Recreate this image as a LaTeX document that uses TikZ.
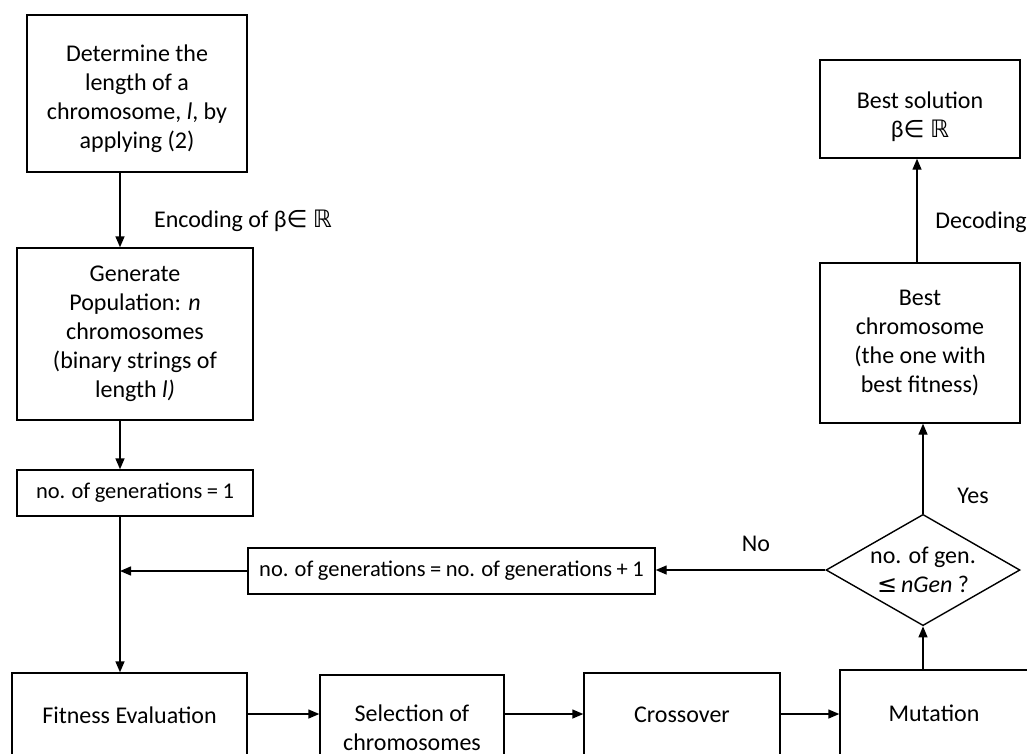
\documentclass[tikz,border=0pt]{standalone}
\usepackage{fontspec}
\setmainfont{Carlito}
\newfontfamily\symfont{DejaVu Sans}
\usetikzlibrary{arrows.meta,shapes.geometric}
\newcommand{\tightsp}{\fontsize{22.5}{29}\selectfont\spaceskip=4.5pt plus 1pt\relax}

\begin{document}
\begin{tikzpicture}[x=1pt, y=-1pt,
    every node/.style={font=\fontsize{24}{29}\selectfont},
    box/.style={draw, line width=1.4pt, align=center, inner sep=0pt},
    arr/.style={-{Triangle[length=11pt,width=9pt]}, line width=1.4pt}]
  \clip (0,0) rectangle (1027,753);
  \coordinate (spine) at (120,0);
  \coordinate (row) at (0,714);

  % left column
  \node[box, minimum width=220, minimum height=157] (len) at (137,93.5)
    {\rule{0pt}{28pt}Determine the\\length of a\\chromosome, \textit{l}, by\\applying (2)};
  \node (enc) at (243,221) {Encoding of β{\symfont∈} {\symfont ℝ}};
  \node[box, minimum width=236, minimum height=172] (pop) at (135,334)
    {Generate\\Population: \textit{n}\\chromosomes\\(binary strings of\\length \textit{l)}};
  \node[box, minimum width=236, minimum height=46] (gen1) at (135,493)
    {\tightsp no. of generations = 1};
  \node[box, minimum width=407, minimum height=46] (inc) at (451.5,571)
    {\tightsp no. of generations = no. of generations + 1};

  % bottom row
  \node[box, minimum width=235, minimum height=84] (fit) at (129.5,715) {Fitness Evaluation};
  \node[box, minimum width=184, minimum height=105] (sel) at (412,727.5) {Selection of\\chromosomes};
  \node[box, minimum width=196, minimum height=84] (cross) at (682,715) {Crossover};
  \node[box, minimum width=188, minimum height=86] (mut) at (934,713) {Mutation};

  \draw[arr] (len.south -| spine) -- (pop.north -| spine);
  \draw[arr] (pop.south -| spine) -- (gen1.north -| spine);
  \draw[arr] (gen1.south -| spine) -- (fit.north -| spine);
  \draw[arr] (inc.west) -- (inc.west -| spine);

  \draw[arr] (fit.east |- row) -- (sel.west |- row);
  \draw[arr] (sel.east |- row) -- (cross.west |- row);
  \draw[arr] (cross.east |- row) -- (mut.west |- row);

  % right column
  \node[box, shape=diamond, inner sep=-10pt, minimum width=194, minimum height=96] (test) at (923,570)
    {no. of gen.\\{\symfont≤}\,\textit{nGen} ?};
  \node (no) at (756,544) {No};
  \node (yes) at (973,496) {Yes};
  \node[box, minimum width=200, minimum height=160] (best) at (920,343)
    {Best\\chromosome\\(the one with\\best fitness)};
  \node (dec) at (981,222) {Decoding};
  \node[box, minimum width=200, minimum height=98] (sol) at (920,109)
    {\rule{0pt}{32pt}Best solution\\β{\symfont∈} {\symfont ℝ}};

  \draw[arr] (mut.north -| test) -- (test.south);
  \draw[arr] (test.west) -- (test.west -| inc.east);
  \draw[arr] (test.north) -- (test.north |- best.south);
  \draw[arr] (best.north -| 917,0) -- (sol.south -| 917,0);
\end{tikzpicture}
\end{document}
